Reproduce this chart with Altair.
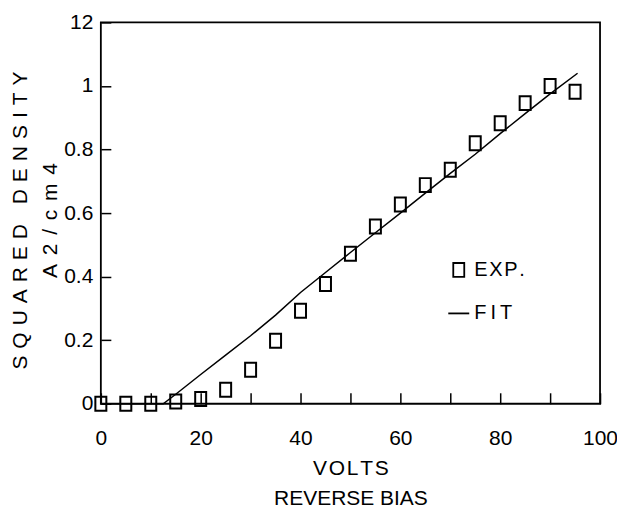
import altair as alt
import pandas as pd

# ---- data ----
volts = [0, 5, 10, 15, 20, 25, 30, 35, 40, 45, 50, 55, 60, 65, 70, 75, 80, 85, 90, 95]
exp_density = [0.0, 0.0, 0.0, 0.007, 0.015, 0.044, 0.107, 0.198, 0.293, 0.377,
               0.472, 0.558, 0.627, 0.688, 0.736, 0.820, 0.883, 0.946, 1.0, 0.982]

fit_volts = [0, 12.5, 15, 20, 25, 30, 35, 40, 45, 50, 55, 60, 65, 70, 75, 80, 85, 90, 95.5]
fit_density = [0.0, 0.0, 0.03, 0.092, 0.153, 0.214, 0.279, 0.350, 0.413, 0.476,
               0.538, 0.600, 0.663, 0.725, 0.785, 0.850, 0.913, 0.975, 1.040]

x_ticks = [0, 10, 20, 30, 40, 50, 60, 70, 80, 90, 100]
x_tick_labels = ["0", "", "20", "", "40", "", "60", "", "80", "", "100"]
y_ticks = [0, 0.2, 0.4, 0.6, 0.8, 1.0, 1.2]
y_tick_labels = ["0", "0.2", "0.4", "0.6", "0.8", "1", "12"]

series_names = ["EXP.", "FIT"]
series_labels = ["E\u200aX\u200aP\u200a.", "F\u2009I\u2009T"]

FONT = "Liberation Sans"
GAP = "\u2004"            # three-per-em space
GAP2 = "\u2004\u200a"     # slightly wider


def label_expr(values, labels, key="datum.value"):
    expr = "''"
    for v, lab in reversed(list(zip(values, labels))):
        if isinstance(v, str):
            cond = f"{key} == '{v}'"
        else:
            cond = f"abs({key} - {v}) < 1e-6"
        expr = f"({cond}) ? '{lab}' : {expr}"
    return expr


exp_df = pd.DataFrame({"volts": volts, "density": exp_density, "series": "EXP."})
fit_df = pd.DataFrame({"volts": fit_volts, "density": fit_density})

rect_path = "M-0.786,-1H0.786V1H-0.786Z"

x_scale = alt.Scale(domain=[0, 100], nice=False, zero=False)
y_scale = alt.Scale(domain=[0, 1.2], nice=False, zero=False)

y_title_1 = GAP.join("SQUARED") + GAP + " " + GAP + GAP.join("DENSITY")
y_title_2 = GAP2.join("A2/cm4")

x_axis = alt.Axis(
    values=x_ticks,
    labelExpr=label_expr(x_ticks, x_tick_labels),
    offset=-11, tickSize=11, tickWidth=1.5, tickColor="black",
    domain=False, grid=False,
    labelPadding=24, labelFont=FONT, labelFontSize=21, labelColor="black",
    labelFlush=False,
    title=["V\u200aO\u200aL\u200aT\u200aS", "REVERSE BIAS"], titleFont=FONT, titleFontSize=21,
    titleFontWeight="normal", titleColor="black", titleLineHeight=30,
    titlePadding=9,
)

y_axis = alt.Axis(
    values=y_ticks,
    labelExpr=label_expr(y_ticks, y_tick_labels),
    offset=-10, tickSize=10, tickWidth=1.5, tickColor="black",
    domain=False, grid=False,
    labelPadding=8, labelFont=FONT, labelFontSize=21, labelColor="black",
    labelFlush=False,
    title=[y_title_1, y_title_2],
    titleFont=FONT, titleFontSize=21, titleFontWeight="normal", titleColor="black",
    titleLineHeight=30, titleAngle=270, titleAlign="center", titleBaseline="middle",
    titleX=-90, titleY=198,
)

legend = alt.Legend(
    orient="none", legendX=347, legendY=238, title=None,
    labelFont=FONT, labelFontSize=20, labelColor="black",
    labelExpr=label_expr(series_names, series_labels, key="datum.label"),
    labelOffset=4, rowPadding=21, padding=0,
    symbolStrokeColor="black", symbolFillColor="transparent", symbolStrokeWidth=1.8,
)

points = alt.Chart(exp_df).mark_point(
    filled=False, color="black", strokeWidth=2, opacity=1
).encode(
    x=alt.X("volts:Q", scale=x_scale, axis=x_axis),
    y=alt.Y("density:Q", scale=y_scale, axis=y_axis),
    shape=alt.Shape("series:N", scale=alt.Scale(domain=series_names, range=[rect_path, "stroke"]),
                    legend=legend),
    size=alt.Size("series:N", scale=alt.Scale(domain=series_names, range=[196, 441]),
                  legend=legend),
)

fit = alt.Chart(fit_df).mark_line(color="black", strokeWidth=1.5).encode(
    x=alt.X("volts:Q", scale=x_scale),
    y=alt.Y("density:Q", scale=y_scale),
)

chart = alt.layer(fit, points).properties(
    width=500, height=382,
    autosize=alt.AutoSizeParams(type="none"),
    padding={"left": 93, "top": 14, "right": 17, "bottom": 112},
    background="white",
).configure_view(stroke="black", strokeWidth=1.8)

chart.save("out.html", embed_options={"renderer": "svg", "actions": False})
